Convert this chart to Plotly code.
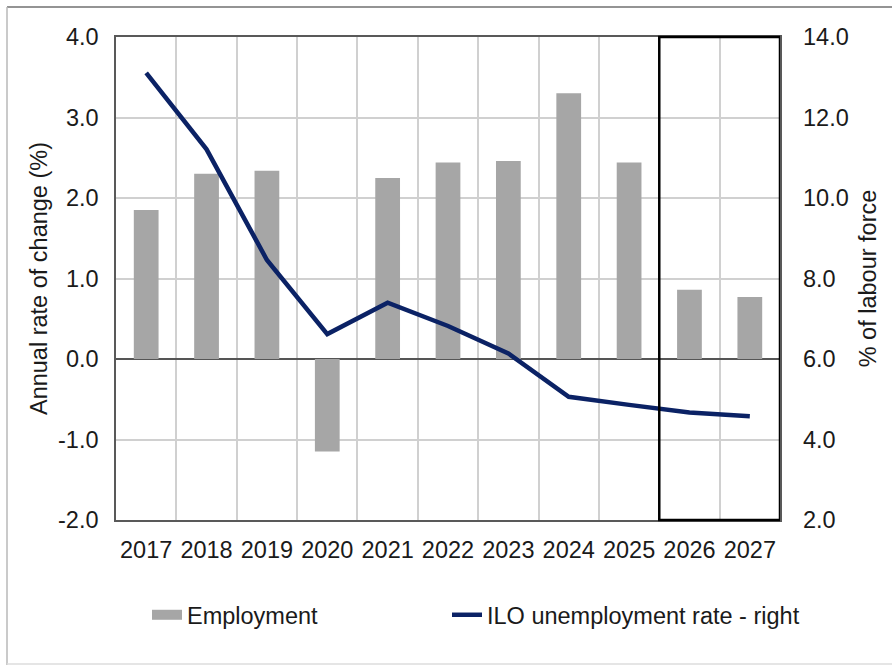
import plotly.graph_objects as go

years = ["2017", "2018", "2019", "2020", "2021", "2022", "2023", "2024", "2025", "2026", "2027"]
employment = [1.85, 2.30, 2.34, -1.15, 2.25, 2.44, 2.46, 3.30, 2.44, 0.86, 0.77]
unemployment = [13.11, 11.21, 8.46, 6.62, 7.40, 6.82, 6.14, 5.06, 4.86, 4.67, 4.58]
left_ticks = [-2, -1, 0, 1, 2, 3, 4]
left_labels = ["-2.0", "-1.0", "0.0", "1.0", "2.0", "3.0", "4.0"]
right_ticks = [2, 4, 6, 8, 10, 12, 14]
right_labels = ["2.0", "4.0", "6.0", "8.0", "10.0", "12.0", "14.0"]

FONT = "Liberation Sans, Arial, sans-serif"
TXT = "#1a1a1a"
BAR = "#a6a6a6"
LINE = "#0b2265"
FS = 23.5

fig = go.Figure()
fig.add_trace(go.Bar(x=years, y=employment, name="Employment", showlegend=False,
                     marker=dict(color=BAR, line=dict(width=0)), width=0.41))
# legend entry for the bars (wide rectangle-like key)
fig.add_trace(go.Scatter(x=[years[0]], y=[None], name="Employment", mode="lines",
                         line=dict(color=BAR, width=11), hoverinfo="skip", legend="legend"))
fig.add_trace(go.Scatter(x=years, y=unemployment, name="ILO unemployment rate - right",
                         yaxis="y2", mode="lines", legend="legend2",
                         line=dict(color=LINE, width=4.5)))

W, H = 892, 665
L, R, T, B = 116, 780, 37, 520
pw, ph = R - L, B - T

def px_x(x):
    return (x - L) / pw

def px_y(y):
    return (B - y) / ph

leg_common = dict(orientation="h", xanchor="left", yanchor="top",
                  font=dict(size=FS, color=TXT), itemwidth=30, bgcolor="rgba(0,0,0,0)")

fig.update_layout(
    width=W, height=H,
    margin=dict(l=L, r=W - R, t=T, b=H - B, autoexpand=False),
    paper_bgcolor="white", plot_bgcolor="white",
    font=dict(family=FONT, size=FS, color=TXT),
    bargap=0.59,
    showlegend=True,
    legend=dict(x=px_x(147), y=px_y(593), **leg_common),
    legend2=dict(x=px_x(447), y=px_y(593), **leg_common),
    xaxis=dict(type="category", showgrid=True, gridcolor="#d0d0d0", gridwidth=1.5,
               tickson="boundaries", ticks="", showline=True, linecolor="#595959",
               linewidth=1.5, mirror=True, ticklabelstandoff=8,
               tickfont=dict(size=FS, color=TXT), range=[-0.5, 10.5]),
    yaxis=dict(range=[-2, 4], tickvals=left_ticks, ticktext=left_labels,
               showgrid=True, gridcolor="#d0d0d0", gridwidth=1.5,
               zeroline=True, zerolinecolor="#555555", zerolinewidth=2,
               showline=True, linecolor="#595959", linewidth=1.5, mirror=True,
               ticks="", ticklabelstandoff=11,
               title=dict(text="Annual rate of change (%)", font=dict(size=FS, color=TXT), standoff=4),
               tickfont=dict(size=FS, color=TXT)),
    yaxis2=dict(range=[2, 14], tickvals=right_ticks, ticktext=right_labels, overlaying="y",
                side="right", showgrid=False, zeroline=False, showline=False, ticks="",
                ticklabelstandoff=22,
                title=dict(text="% of labour force", font=dict(size=FS, color=TXT), standoff=11),
                tickfont=dict(size=FS, color=TXT)),
    shapes=[
        dict(type="rect", xref="x", yref="paper", x0=8.5, x1=10.5, y0=0, y1=1,
             line=dict(color="#000000", width=2.5), layer="above"),
        # outer frame: top, left, bottom
        dict(type="line", xref="paper", yref="paper", x0=px_x(7), x1=px_x(900),
             y0=px_y(7), y1=px_y(7), line=dict(color="#707070", width=1.5), layer="below"),
        dict(type="line", xref="paper", yref="paper", x0=px_x(7), x1=px_x(7),
             y0=px_y(7), y1=px_y(670), line=dict(color="#b8b8b8", width=1.5), layer="below"),
        dict(type="line", xref="paper", yref="paper", x0=px_x(7), x1=px_x(900),
             y0=px_y(664), y1=px_y(664), line=dict(color="#dddddd", width=1.5), layer="below"),
    ],
)

fig.write_html("out.html", config={"displayModeBar": False},
               post_script="document.body.style.margin='0';")
